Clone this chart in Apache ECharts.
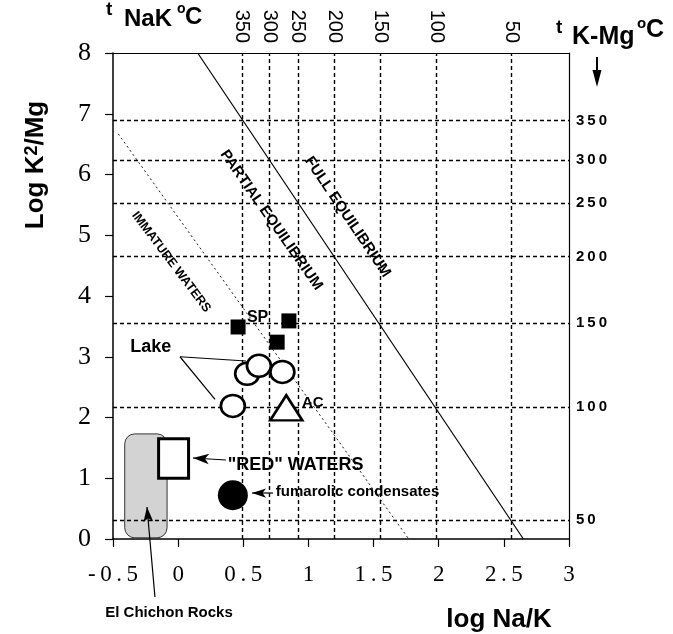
<!DOCTYPE html>
<html>
<head>
<meta charset="utf-8">
<title>log K2/Mg - log Na/K</title>
<script src="https://cdn.jsdelivr.net/npm/echarts@6/dist/echarts.min.js"></script>
<style>
html,body{margin:0;padding:0;background:#fff;}
#main{width:673px;height:634px;}
</style>
</head>
<body>
<div id="main"></div>
<script>
// t NaK isotherms (top axis): log Na/K position + label
var nakTemps = ['350', '300', '250', '200', '150', '100', '50'];
var nakPos = [0.49, 0.70, 0.92, 1.20, 1.55, 1.98, 2.56];
// t K-Mg isotherms (right axis): log K2/Mg position + label
var kmgTemps = ['350', '300', '250', '200', '150', '100', '50'];
var kmgPos = [6.89, 6.24, 5.53, 4.65, 3.55, 2.17, 0.31];

// lines
var fullEquil = [[0.15, 8], [2.65, 0]];
var immature = [[-0.46, 6.67], [1.77, 0]];

// samples
var spSquares = [[0.46, 3.49], [0.85, 3.59], [0.76, 3.24]];
var lakeCircles = [[0.53, 2.72], [0.62, 2.85], [0.80, 2.75], [0.42, 2.19]];
var acTriangle = [[0.83, 2.16]];
var fumarolic = [[0.42, 0.72]];
// boxes: x0, y0, x1, y1
var redWaters = [[-0.15, 1.65, 0.08, 1.00]];
var rocks = [[-0.41, 1.73, -0.085, 0.02]];

// annotation texts
var noteText = ['Lake', 'SP', 'AC', '"RED" WATERS', 'fumarolic condensates', 'El Chichon Rocks',
  'IMMATURE WATERS', 'PARTIAL EQUILIBRIUM', 'FULL EQUILIBRIUM'];
var noteXY = [[-0.21, 3.16], [0.61, 3.65], [0.95, 2.24], [0.38, 1.22], [0.75, 0.77], [-0.07, -1.22],
  [-0.054, 4.56], [0.715, 5.25], [1.30, 5.30]];
// pointer lines: tail x, tail y, tip x, tip y
var pointers = [[-0.178, -0.955, -0.239, 0.527], [0.367, 1.30, 0.114, 1.333], [0.728, 0.757, 0.567, 0.757],
  [0.014, 3.00, 0.521, 2.93], [0.014, 3.00, 0.283, 2.30]];

var sans = 'Liberation Sans, Arial, sans-serif';
var serif = 'Liberation Serif, Times New Roman, serif';
var noteStyle = [
  {size: 18, align: 'center', rot: 0},
  {size: 16, align: 'center', rot: 0},
  {size: 15, align: 'left', rot: 0},
  {size: 18, align: 'left', rot: 0},
  {size: 15, align: 'left', rot: 0},
  {size: 15, align: 'center', rot: 0},
  {size: 12.5, align: 'center', rot: -53},
  {size: 15, align: 'center', rot: -55},
  {size: 15, align: 'center', rot: -56}
];
var headLen = [15, 16, 14, 0, 0];

function spaced(v) { return String(v).split('').join('\u2009'); }

var gridMarks = nakPos.map(function (v) { return {xAxis: v}; })
  .concat(kmgPos.map(function (v) { return {yAxis: v}; }));

var chart = echarts.init(document.getElementById('main'));

var option = {
  animation: false,
  backgroundColor: '#fff',
  grid: {left: 113, right: 104, top: 53, bottom: 95, outerBoundsMode: 'none'},
  xAxis: [
    {type: 'value', position: 'bottom', min: -0.5, max: 3, interval: 0.5,
      axisLine: {onZero: false, lineStyle: {color: '#000', width: 1.5}},
      axisTick: {length: 8, lineStyle: {color: '#000', width: 1.2}},
      axisLabel: {color: '#000', fontFamily: serif, fontSize: 23, margin: 24, formatter: spaced},
      splitLine: {show: false}},
    {type: 'value', position: 'top', min: -0.5, max: 3,
      axisLine: {onZero: false, lineStyle: {color: '#000', width: 1.2}},
      axisTick: {show: false},
      axisLabel: {customValues: nakPos, rotate: 90, color: '#000', fontFamily: sans, fontSize: 20, margin: 10,
        formatter: function (v) { var i = nakPos.indexOf(v); return i < 0 ? '' : nakTemps[i]; }},
      splitLine: {show: false}}
  ],
  yAxis: [
    {type: 'value', position: 'left', min: 0, max: 8, interval: 1,
      axisLine: {onZero: false, lineStyle: {color: '#000', width: 1.5}},
      axisTick: {length: 8, lineStyle: {color: '#000', width: 1.2}},
      axisLabel: {color: '#000', fontFamily: serif, fontSize: 26, margin: 22},
      splitLine: {show: false}},
    {type: 'value', position: 'right', min: 0, max: 8,
      axisLine: {onZero: false, lineStyle: {color: '#000', width: 1.2}},
      axisTick: {show: false},
      axisLabel: {customValues: kmgPos, color: '#000', fontFamily: sans, fontWeight: 'bold', fontSize: 15, margin: 7,
        formatter: function (v) { var i = kmgPos.indexOf(v); return i < 0 ? '' : spaced(kmgTemps[i]); }},
      splitLine: {show: false}}
  ],
  graphic: [
    {type: 'text', x: 36, y: 165, rotation: Math.PI / 2,
      style: {text: 'Log K{s|2}/Mg', fontFamily: sans, fontWeight: 'bold', fontSize: 26, fill: '#000',
        align: 'center', verticalAlign: 'middle',
        rich: {s: {fontFamily: sans, fontWeight: 'bold', fontSize: 18, verticalAlign: 'top', fill: '#000'}}}},
    {type: 'text', x: 499, y: 620,
      style: {text: 'log Na/K', fontFamily: sans, fontWeight: 'bold', fontSize: 26, fill: '#000',
        align: 'center', verticalAlign: 'middle'}},
    // t NaK oC
    {type: 'text', x: 106, y: 10, style: {text: 't', fontFamily: sans, fontWeight: 'bold', fontSize: 19, fill: '#000', verticalAlign: 'middle'}},
    {type: 'text', x: 124, y: 19, style: {text: 'NaK', fontFamily: sans, fontWeight: 'bold', fontSize: 24, fill: '#000', verticalAlign: 'middle'}},
    {type: 'text', x: 177, y: 9, style: {text: 'o', fontFamily: sans, fontWeight: 'bold', fontSize: 14, fill: '#000', verticalAlign: 'middle'}},
    {type: 'text', x: 185, y: 17, style: {text: 'C', fontFamily: sans, fontWeight: 'bold', fontSize: 24, fill: '#000', verticalAlign: 'middle'}},
    // t K-Mg oC
    {type: 'text', x: 556, y: 28, style: {text: 't', fontFamily: sans, fontWeight: 'bold', fontSize: 19, fill: '#000', verticalAlign: 'middle'}},
    {type: 'text', x: 572, y: 37, style: {text: 'K-Mg', fontFamily: sans, fontWeight: 'bold', fontSize: 25, fill: '#000', verticalAlign: 'middle'}},
    {type: 'text', x: 637, y: 24, style: {text: 'o', fontFamily: sans, fontWeight: 'bold', fontSize: 15, fill: '#000', verticalAlign: 'middle'}},
    {type: 'text', x: 646, y: 30, style: {text: 'C', fontFamily: sans, fontWeight: 'bold', fontSize: 25, fill: '#000', verticalAlign: 'middle'}},
    {type: 'line', shape: {x1: 597, y1: 57, x2: 597, y2: 74}, style: {stroke: '#000', lineWidth: 2}},
    {type: 'polygon', shape: {points: [[592.5, 70], [601.5, 70], [597, 87]]}, style: {fill: '#000'}}
  ],
  series: [
    {name: 'rocks', type: 'custom', z: 1, clip: false, data: rocks,
      renderItem: function (params, api) {
        var a = api.coord([api.value(0), api.value(1)]);
        var b = api.coord([api.value(2), api.value(3)]);
        return {type: 'rect', shape: {x: a[0], y: a[1], width: b[0] - a[0], height: b[1] - a[1], r: 10},
          style: {fill: '#d3d3d3', stroke: '#333', lineWidth: 1}};
      }},
    {name: 'immature', type: 'line', z: 2, data: immature, symbol: 'none', silent: true,
      lineStyle: {color: '#000', width: 0.9, type: [2, 3]},
      markLine: {silent: true, symbol: 'none', label: {show: false}, animation: false,
        lineStyle: {color: '#000', width: 1.4, type: [4, 3]}, data: gridMarks}},
    {name: 'full', type: 'line', z: 3, data: fullEquil, symbol: 'none', silent: true,
      lineStyle: {color: '#000', width: 1.2}},
    {name: 'pointers', type: 'custom', z: 4, clip: false, data: pointers,
      renderItem: function (params, api) {
        var p0 = api.coord([api.value(0), api.value(1)]);
        var p1 = api.coord([api.value(2), api.value(3)]);
        var hl = headLen[params.dataIndex];
        var kids = [{type: 'line', shape: {x1: p0[0], y1: p0[1], x2: p1[0], y2: p1[1]},
          style: {stroke: '#000', lineWidth: 1.2}}];
        if (hl > 0) {
          var dx = p1[0] - p0[0], dy = p1[1] - p0[1];
          var L = Math.sqrt(dx * dx + dy * dy), ux = dx / L, uy = dy / L;
          var hw = hl * 0.33;
          var bx = p1[0] - ux * hl, by = p1[1] - uy * hl;
          var nx = p1[0] - ux * hl * 0.75, ny = p1[1] - uy * hl * 0.75;
          kids.push({type: 'polygon', shape: {points: [[p1[0], p1[1]], [bx - uy * hw, by + ux * hw], [nx, ny], [bx + uy * hw, by - ux * hw]]},
            style: {fill: '#000'}});
        }
        return {type: 'group', children: kids};
      }},
    {name: 'SP', type: 'scatter', z: 5, data: spSquares, symbol: 'rect', symbolSize: 15,
      itemStyle: {color: '#000', opacity: 1}},
    {name: 'Lake', type: 'scatter', z: 5, data: lakeCircles, symbol: 'circle', symbolSize: [24, 22],
      itemStyle: {color: '#fff', borderColor: '#000', borderWidth: 2.6, opacity: 1}},
    {name: 'AC', type: 'scatter', z: 5, data: acTriangle, symbol: 'triangle', symbolSize: [32, 25],
      itemStyle: {color: '#fff', borderColor: '#000', borderWidth: 2.6, opacity: 1}},
    {name: 'fumarolic', type: 'scatter', z: 5, data: fumarolic, symbol: 'circle', symbolSize: 30,
      itemStyle: {color: '#000', opacity: 1}},
    {name: 'red', type: 'custom', z: 5, data: redWaters,
      renderItem: function (params, api) {
        var a = api.coord([api.value(0), api.value(1)]);
        var b = api.coord([api.value(2), api.value(3)]);
        return {type: 'rect', shape: {x: a[0], y: a[1], width: b[0] - a[0], height: b[1] - a[1]},
          style: {fill: '#fff', stroke: '#000', lineWidth: 3}};
      }},
    {name: 'notes', type: 'custom', z: 6, clip: false, data: noteXY,
      renderItem: function (params, api) {
        var p = api.coord([api.value(0), api.value(1)]);
        var s = noteStyle[params.dataIndex];
        return {type: 'text', x: p[0], y: p[1], rotation: s.rot * Math.PI / 180,
          style: {text: noteText[params.dataIndex], fontFamily: sans, fontWeight: 'bold', fontSize: s.size,
            fill: '#000', align: s.align, verticalAlign: 'middle'}};
      }}
  ]
};

chart.setOption(option);
</script>
</body>
</html>
